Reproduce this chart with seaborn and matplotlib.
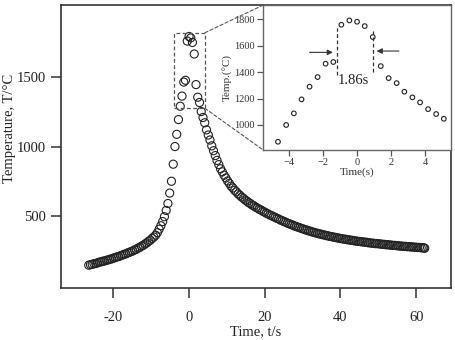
import seaborn as sns
import matplotlib.pyplot as plt
from matplotlib.patches import Rectangle, ConnectionPatch

# Main curve: temperature history
time_main = [-26.50, -26.04, -25.57, -25.11, -24.64, -24.18, -23.71, -23.25, -22.78, -22.32,
             -21.85, -21.39, -20.92, -20.46, -19.99, -19.53, -19.06, -18.60, -18.13, -17.67,
             -17.20, -16.74, -16.27, -15.81, -15.34, -14.88, -14.41, -13.95, -13.48, -13.02,
             -12.55, -12.09, -11.62, -11.16, -10.69, -10.23, -9.76, -9.30, -8.83, -8.37,
             -7.90, -7.44, -6.97, -6.51, -6.04, -5.58, -5.11, -4.65, -4.18,
             -3.72, -3.25, -2.80, -2.33, -1.86, -1.39, -0.94, -0.47, 0.00, 0.45,
             0.90, 1.37, 1.84, 2.30, 2.77, 3.22, 3.69, 4.14, 4.61, 5.08,
             5.53, 6.00, 6.46, 6.93, 7.39, 7.86, 8.32, 8.79, 9.25, 9.72,
             10.18, 10.65, 11.11, 11.58, 12.04, 12.51, 12.97, 13.44, 13.90, 14.37,
             14.83, 15.30, 15.76, 16.23, 16.69, 17.16, 17.62, 18.09, 18.55, 19.02,
             19.48, 19.95, 20.41, 20.88, 21.34, 21.81, 22.27, 22.74, 23.20, 23.67,
             24.13, 24.60, 25.06, 25.53, 25.99, 26.46, 26.92, 27.39, 27.85, 28.32,
             28.78, 29.25, 29.71, 30.18, 30.64, 31.11, 31.57, 32.04, 32.50, 32.97,
             33.43, 33.90, 34.36, 34.83, 35.29, 35.76, 36.22, 36.69, 37.15, 37.62,
             38.08, 38.55, 39.01, 39.48, 39.94, 40.41, 40.87, 41.34, 41.80, 42.27,
             42.73, 43.20, 43.66, 44.13, 44.59, 45.06, 45.52, 45.99, 46.45, 46.92,
             47.38, 47.85, 48.31, 48.78, 49.24, 49.71, 50.17, 50.64, 51.10, 51.57,
             52.03, 52.50, 52.96, 53.43, 53.89, 54.36, 54.82, 55.29, 55.75, 56.22,
             56.68, 57.15, 57.61, 58.08, 58.54, 59.01, 59.47, 59.94, 60.40, 60.87,
             61.33, 61.80, 62.05, 62.26]
temp_main = [146, 150, 152, 157, 158, 163, 168, 170, 175, 176,
             181, 184, 189, 191, 197, 200, 206, 208, 214, 218,
             224, 227, 234, 238, 244, 248, 256, 260, 269, 274,
             283, 289, 299, 306, 318, 326, 339, 349, 362, 380,
             405, 430, 460, 495, 540, 590, 665, 750, 873,
             1000, 1088, 1194, 1290, 1363, 1464, 1477, 1759, 1792, 1782,
             1749, 1666, 1446, 1355, 1317, 1252, 1209, 1171, 1120, 1083,
             1047, 1005, 970, 935, 900, 870, 840, 818, 794, 774,
             752, 735, 715, 702, 685, 674, 659, 649, 636, 627,
             615, 607, 596, 589, 579, 573, 563, 557, 548, 543,
             534, 529, 520, 515, 507, 503, 495, 491, 483, 479,
             471, 467, 460, 456, 449, 445, 438, 435, 428, 425,
             419, 416, 410, 407, 401, 399, 393, 391, 385, 383,
             378, 376, 371, 370, 365, 364, 359, 358, 353, 352,
             348, 347, 343, 342, 338, 337, 333, 333, 329, 329,
             325, 325, 321, 321, 317, 317, 314, 314, 311, 311,
             307, 307, 304, 304, 301, 302, 299, 299, 296, 296,
             293, 294, 291, 291, 288, 289, 286, 286, 283, 284,
             281, 282, 279, 280, 277, 278, 275, 276, 273, 274,
             271, 272, 270, 268]

# Inset: close-up around the peak
time_zoom = [-4.63, -4.15, -3.70, -3.25, -2.78, -2.31, -1.84, -1.39, -0.92, -0.45, 0.00,
             0.45, 0.92, 1.39, 1.85, 2.32, 2.77, 3.24, 3.69, 4.16, 4.63, 5.08]
temp_zoom = [873, 1000, 1088, 1194, 1290, 1363, 1464, 1477, 1759, 1792, 1782,
             1749, 1666, 1446, 1355, 1317, 1252, 1209, 1171, 1120, 1083, 1047]

sns.set_style('ticks')
plt.rcParams['font.family'] = ['Liberation Serif', 'DejaVu Serif']
plt.rcParams['axes.unicode_minus'] = False

fig = plt.figure(figsize=(4.56, 3.40), dpi=100)
ax = fig.add_axes([0.134, 0.153, 0.855, 0.832])

sns.scatterplot(x=time_main, y=temp_main, ax=ax, marker='o', s=34,
                facecolors='none', edgecolor='#222222', linewidth=0.8)
ax.set_xlim(-33.8, 69.2)
ax.set_ylim(-18, 2018)
ax.set_xticks([-20, 0, 20, 40, 60])
ax.set_yticks([500, 1000, 1500])
ax.tick_params(direction='out', length=7.5, width=1.1, color='#333333',
               labelsize=10.5, labelcolor='#222222')
ax.tick_params(axis='x', pad=9)
ax.set_xlabel('Time, t/s', fontsize=10.5, color='#222222', labelpad=1)
ax.set_ylabel('Temperature, T/°C', fontsize=10.5, color='#222222', labelpad=2)
ax.yaxis.set_label_coords(-0.115, 0.565)
for sp in ax.spines.values():
    sp.set_color('#333333')
    sp.set_linewidth(1.2)

# dashed box around the peak
ax.add_patch(Rectangle((-3.9, 1275), 8.1, 544, fill=False, ls=(0, (3, 2)),
                       lw=0.9, ec='#555555'))

axin = fig.add_axes([0.577, 0.559, 0.412, 0.426])
sns.scatterplot(x=time_zoom, y=temp_zoom, ax=axin, marker='o', s=11,
                facecolors='none', edgecolor='#222222', linewidth=0.8)
axin.set_xlim(-5.5, 5.5)
axin.set_ylim(811, 1908)
axin.set_xticks([-4, -2, 0, 2, 4])
axin.set_xticklabels(['\u22124', '\u22122', '0', '2', '4'])
axin.set_yticks([1000, 1200, 1400, 1600, 1800])
axin.tick_params(direction='out', length=4, width=0.9, color='#555555',
                 labelsize=7.5, labelcolor='#333333', pad=2)
axin.set_xlabel('Time(s)', fontsize=8, color='#333333', labelpad=0)
axin.set_ylabel('Temp.(°C)', fontsize=8, color='#333333', labelpad=1)
for sp in axin.spines.values():
    sp.set_color('#666666')
    sp.set_linewidth(1.0)

# width marks
axin.plot([-1.2, -1.2], [1378, 1732], ls=(0, (3, 2)), lw=0.9, color='#333333')
axin.plot([0.94, 0.94], [1400, 1715], ls=(0, (3, 2)), lw=0.9, color='#333333')
arrow = dict(arrowstyle='-|>', lw=0.8, color='#333333', mutation_scale=8)
axin.annotate('', xy=(-1.25, 1550), xytext=(-2.94, 1550), arrowprops=arrow)
axin.annotate('', xy=(0.98, 1560), xytext=(2.61, 1560), arrowprops=arrow)
axin.text(-0.24, 1340, '1.86s', fontsize=10.5, color='#222222', ha='center', va='center')

# lines from the box to the inset
for yb, yf in [(1819, 1.0), (1275, 0.0)]:
    con = ConnectionPatch(xyA=(4.2, yb), coordsA='data', axesA=ax,
                          xyB=(0.0, yf), coordsB='axes fraction', axesB=axin,
                          ls=(0, (3, 2)), lw=0.8, color='#555555')
    fig.add_artist(con)

fig.savefig('out.png', dpi=100)
